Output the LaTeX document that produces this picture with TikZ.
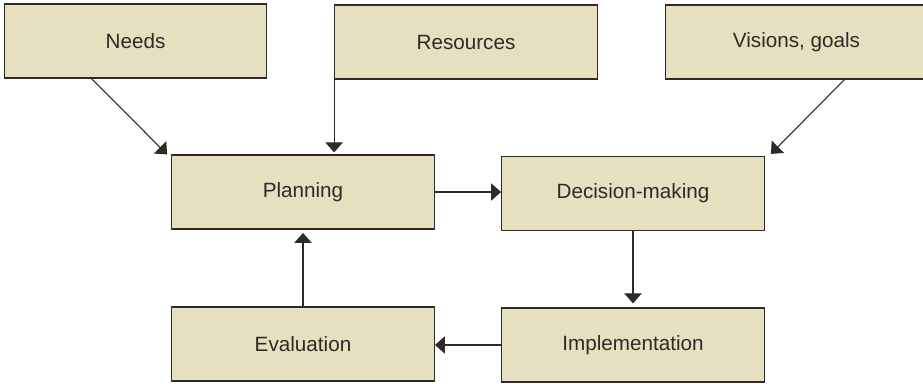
\documentclass[tikz,border=0pt]{standalone}
\usepackage{fontspec}
\setmainfont{Liberation Sans}
\usetikzlibrary{arrows.meta}
\definecolor{beige}{RGB}{230,224,192}
\definecolor{edge}{RGB}{45,42,40}

\begin{document}
\begin{tikzpicture}[x=0.75pt,y=-0.75pt,
    box/.style={draw=edge, fill=beige, line width=0.9pt, minimum width=197pt,
        minimum height=55.5pt, inner sep=0pt, font=\fontsize{15.5}{18}\selectfont, text=edge},
    arr/.style={draw=edge, line width=0.8pt, -{Triangle[width=13pt,length=7.5pt]}}]
    % Page
    \useasboundingbox (0,0) rectangle (923,383);
    \clip (0,0) rectangle (923,383);
    % Inputs
    \node[box] (needs) at (135.5,41) {Needs};
    \node[box] (res) at (466,42) {Resources};
    \node[box] (vis) at (796.5,42) {Visions, goals};
    % Cycle
    \node[box] (plan) at (303,192) {Planning};
    \node[box] (dec) at (633,193.5) {Decision-making};
    \node[box] (eval) at (303,344) {Evaluation};
    \node[box] (impl) at (633,345) {Implementation};
    % Arrows in
    \draw[arr] ([shift={(88,0)}]needs.south west) -- ([shift={(-4,0)}]plan.north west);
    \draw[arr, shorten >=1.5pt] (res.south west) -- (res.south west |- plan.north);
    \draw[arr] ([shift={(-84,0)}]vis.south east) -- ([shift={(6,-2)}]dec.north east);
    % Arrows round the cycle
    \draw[arr] (plan.east) -- (plan.east -| dec.west);
    \draw[arr, shorten >=3pt] (dec.south) -- (dec.south |- impl.north);
    \draw[arr] (impl.west) -- (impl.west -| eval.east);
    \draw[arr, shorten >=2.5pt] (eval.north) -- (eval.north |- plan.south);
\end{tikzpicture}
\end{document}
